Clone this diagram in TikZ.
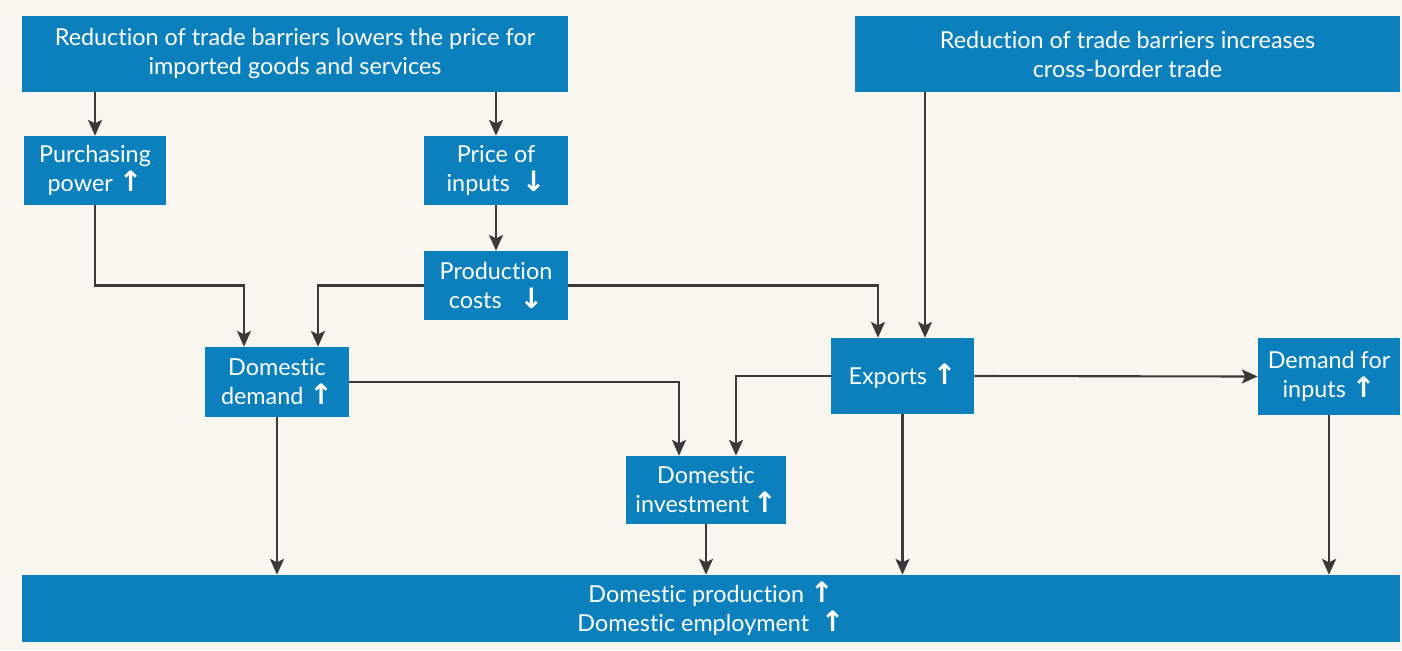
\documentclass[tikz,border=0pt]{standalone}
\usepackage{fontspec}
\setmainfont{Lato}[Ligatures=NoCommon]
\newfontfamily\arrfont{DejaVu Sans}
\usetikzlibrary{arrows.meta,calc}
\definecolor{boxblue}{HTML}{0B80BC}
\definecolor{bgcream}{HTML}{F8F6EE}
\definecolor{linegray}{HTML}{3A3A3A}
\newcommand{\upa}{{\arrfont\bfseries\fontsize{16}{16}\selectfont ↑}}
\newcommand{\dna}{{\arrfont\bfseries\fontsize{16}{16}\selectfont ↓}}
\tikzset{
  box/.style={fill=boxblue, text=white, align=center, inner sep=2pt,
    font=\fontsize{13.3}{16.5}\selectfont},
  conn/.style={draw=linegray, line width=1.2pt,
    -{Stealth[length=9pt,width=8pt,inset=2pt]}}
}
\begin{document}
\begin{tikzpicture}[x=0.02cm,y=-0.02cm]
\fill[bgcream] (0,0) rectangle (1402,650);
\useasboundingbox (0,0) rectangle (1402,650);

\node[box, minimum width=10.92cm, minimum height=1.52cm] (topL) at (295,54)
  {Reduction of trade barriers lowers the price for\\imported goods and services};
\node[box, minimum width=10.9cm, minimum height=1.52cm] (topR) at (1127.5,54)
  {Reduction of trade barriers increases\\cross-border trade};
\node[box, minimum width=2.84cm, minimum height=1.38cm] (pp) at (95,170.5)
  {Purchasing\\power \upa};
\node[box, minimum width=2.88cm, minimum height=1.38cm] (pi) at (496,170.5)
  {Price of\\inputs \ \dna};
\node[box, minimum width=2.88cm, minimum height=1.38cm] (pc) at (496,285.5)
  {Production\\costs \ \ \dna};
\node[box, minimum width=2.88cm, minimum height=1.4cm] (dd) at (277,382)
  {Domestic\\demand \upa};
\node[box, minimum width=2.86cm, minimum height=1.52cm] (ex) at (902.5,376)
  {Exports \upa};
\node[box, minimum width=2.84cm, minimum height=1.54cm] (di) at (1329,376.5)
  {Demand for\\inputs \upa};
\node[box, minimum width=3.2cm, minimum height=1.36cm] (inv) at (706,490)
  {Domestic\\investment\,\upa};
\node[box, minimum width=27.56cm, minimum height=1.34cm] (bar) at (711,608.5)
  {Domestic production \upa\\Domestic employment \ \upa};

\coordinate (ddA) at ($(dd.north)+(-33,0)$);
\coordinate (ddB) at ($(dd.north)+(41,0)$);
\coordinate (exA) at ($(ex.north)+(-24.5,0)$);
\coordinate (exB) at ($(ex.north)+(22.5,0)$);
\coordinate (invA) at ($(inv.north)+(-27,0)$);
\coordinate (invB) at ($(inv.north)+(30,0)$);

\draw[conn] (topL.south -| pp.north) -- (pp.north);
\draw[conn] (topL.south -| pi.north) -- (pi.north);
\draw[conn] (pi.south) -- (pc.north);
\draw[conn] (pp.south) |- (ddA |- pc.west) -- (ddA);
\draw[conn] (pc.west) -| (ddB);
\draw[conn] (pc.east) -| (exA);
\draw[conn] (topR.south -| exB) -- (exB);
\draw[conn] (dd.east) -| (invA);
\draw[conn] (ex.west) -| (invB);
\draw[conn] (ex.east) -- (di.west);
\draw[conn] (dd.south) -- (dd.south |- bar.north);
\draw[conn] (inv.south) -- (inv.south |- bar.north);
\draw[conn] (ex.south) -- (ex.south |- bar.north);
\draw[conn] (di.south) -- (di.south |- bar.north);
\end{tikzpicture}
\end{document}
